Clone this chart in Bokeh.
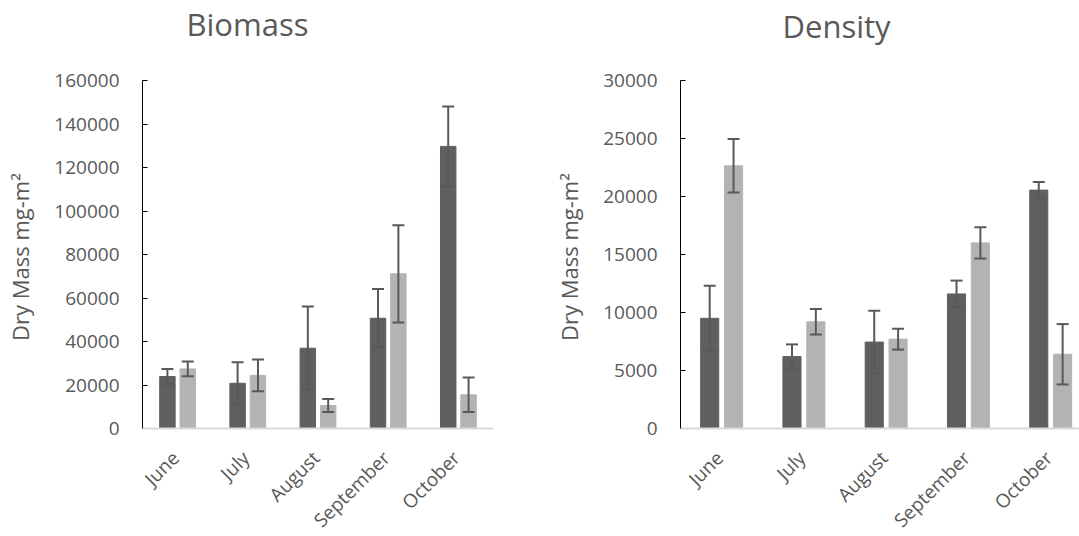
import math
from bokeh.plotting import figure
from bokeh.layouts import row
from bokeh.models import (ColumnDataSource, Whisker, TeeHead, FixedTicker, Range1d,
                          BasicTickFormatter, Span)
from bokeh.core.properties import value
from bokeh.embed import file_html
from bokeh.resources import INLINE

months = ["June", "July", "August", "September", "October"]

biomass_dark = [23900, 20800, 36900, 50700, 129700]
biomass_dark_err = [3500, 9700, 19200, 13400, 18400]
biomass_light = [27400, 24400, 10600, 71100, 15500]
biomass_light_err = [3400, 7300, 3000, 22400, 7900]

density_dark = [9500, 6200, 7450, 11600, 20550]
density_dark_err = [2800, 1050, 2700, 1150, 700]
density_light = [22650, 9200, 7700, 16000, 6400]
density_light_err = [2300, 1100, 900, 1350, 2600]

biomass_ticks = [0, 20000, 40000, 60000, 80000, 100000, 120000, 140000, 160000]
density_ticks = [0, 5000, 10000, 15000, 20000, 25000, 30000]

y_label = "Dry Mass mg-m\u00b2"

FONT = "Open Sans"
TXT = "#595959"
DARK = "#5f5f5f"
LIGHT = "#b3b3b3"
ERR = "#595959"
BAR_W = 0.22
OFF = 0.145
H = 536
AX_TOP = 80     # pixel row of the top tick
AX_BOT = 428    # pixel row of the zero line


def panel(title, dark, dark_err, light, light_err, yticks, width, bl, br, x_end,
          t_off, t_up):
    ymax = yticks[-1]
    per_px = ymax / (AX_BOT - AX_TOP)
    y_start = -(H - AX_BOT) * per_px
    y_end = ymax + AX_TOP * per_px
    p = figure(width=width, height=H, output_backend="svg", toolbar_location=None,
               x_range=Range1d(0, x_end), y_range=Range1d(y_start, y_end),
               x_axis_location=None,
               min_border_left=bl, min_border_right=br, min_border_top=0,
               min_border_bottom=0)
    p.outline_line_color = None
    p.grid.visible = False
    p.background_fill_color = "white"
    p.border_fill_color = "white"

    centers = [i + 0.5 for i in range(len(months))]
    for vals, errs, off, col in ((dark, dark_err, -OFF, DARK),
                                 (light, light_err, OFF, LIGHT)):
        xs = [c + off for c in centers]
        src = ColumnDataSource(dict(
            x=xs, top=vals,
            upper=[v + e for v, e in zip(vals, errs)],
            lower=[v - e for v, e in zip(vals, errs)]))
        p.vbar(x="x", top="top", bottom=0, width=BAR_W, source=src,
               fill_color=col, line_color=col)
        w = Whisker(base="x", upper="upper", lower="lower", source=src,
                    line_color=ERR, line_width=2, level="annotation",
                    upper_head=TeeHead(size=12, line_color=ERR, line_width=2),
                    lower_head=TeeHead(size=12, line_color=ERR, line_width=2))
        p.add_layout(w)

    # category axis line at zero
    p.add_layout(Span(location=0, dimension="width", line_color="#d9d9d9",
                      line_width=2))

    # rotated category names
    lab_src = ColumnDataSource(dict(x=centers, y=[0] * len(months), text=months))
    p.text(x="x", y="y", text="text", source=lab_src, angle=math.pi / 4,
           text_align="right", text_baseline="middle", x_offset=-2, y_offset=26,
           text_font=value(FONT), text_font_size="19px", text_color=TXT)

    # title
    p.text(x=[0], y=[ymax], text=[title], x_offset=t_off, y_offset=-t_up,
           text_align="left", text_baseline="alphabetic",
           text_font=value(FONT), text_font_size="31px", text_color=TXT)

    ya = p.yaxis[0]
    ya.bounds = (0, ymax)
    ya.ticker = FixedTicker(ticks=yticks)
    ya.formatter = BasicTickFormatter(use_scientific=False)
    ya.axis_line_color = "black"
    ya.major_tick_line_color = "black"
    ya.major_tick_in = 5
    ya.major_tick_out = 0
    ya.minor_tick_line_color = None
    ya.major_label_text_font = FONT
    ya.major_label_text_font_size = "19px"
    ya.major_label_text_color = TXT
    ya.major_label_standoff = 23
    ya.axis_label = "\u00a0\u00a0\u00a0\u00a0" + y_label
    ya.axis_label_text_font = FONT
    ya.axis_label_text_font_size = "22px"
    ya.axis_label_text_font_style = "normal"
    ya.axis_label_text_color = TXT
    ya.axis_label_standoff = 16
    return p


p1 = panel("Biomass", biomass_dark, biomass_dark_err, biomass_light, biomass_light_err,
           biomass_ticks, 540, 142, 47, 5.0, 44, 57)
p2 = panel("Density", density_dark, density_dark_err, density_light, density_light_err,
           density_ticks, 539, 140, 0, 4.85, 102, 55)

layout = row(p1, p2)
open("out.html", "w").write(file_html(layout, INLINE))
